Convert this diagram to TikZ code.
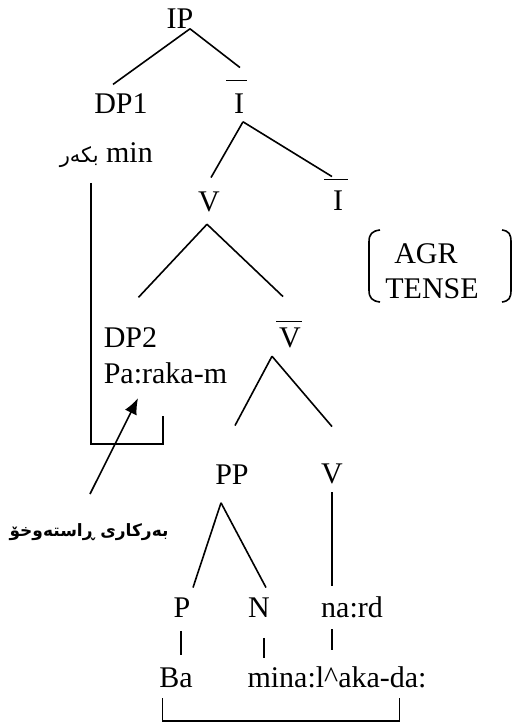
\documentclass[tikz,border=0pt]{standalone}
\usepackage{fontspec}
\setmainfont{Liberation Serif}
\newfontfamily\arabicfont[Script=Arabic]{DejaVu Sans}
\TeXXeTstate=1
\usepackage{tikz}
\usetikzlibrary{arrows.meta,calc}

\begin{document}
\begin{tikzpicture}[x=1pt,y=-1pt,line width=1.6pt,
  lbl/.style={font=\fontsize{30}{34}\selectfont,inner sep=0pt,anchor=base},
  kur/.style={font=\fontsize{17}{20}\arabicfont\bfseries,inner sep=0pt}]
  \useasboundingbox (0,0) rectangle (515,726);
  \node[lbl] (ip) at (180,28) {IP};
  \node[lbl] (dp1) at (121,113) {DP1};
  \node[lbl] (ibar1) at (239,113) {I};
  \node[lbl,anchor=base west] (subj) at (59,162) {{\fontsize{21}{24}\arabicfont\beginR بکەر\endR}\ min};
  \node[lbl] (v1) at (209,211) {V};
  \node[lbl] (ibar2) at (338,210) {I};
  \node[lbl] (agr) at (426,263) {AGR};
  \node[lbl] (tense) at (432,298) {TENSE};
  \node[lbl,anchor=base west] (dp2) at (103,347) {DP2};
  \node[lbl,anchor=base west] (obj) at (103,383) {Pa:raka-m};
  \node[lbl] (vbar) at (290,347) {V};
  \node[lbl] (pp) at (232,484) {PP};
  \node[lbl] (v2) at (332,483) {V};
  \node[kur] (dobj) at (89,532) {\beginR بەرکاری ڕاستەوخۆ\endR};
  \node[lbl] (p) at (182,617) {P};
  \node[lbl] (n) at (259,617) {N};
  \node[lbl] (nard) at (352,617) {na:rd};
  \node[lbl] (ba) at (176,687) {Ba};
  \node[lbl] (mina) at (337,687) {mina:l\textasciicircum aka-da:};

  \draw ([xshift=-13pt,yshift=12pt]ibar1.north) -- ++(21,0);
  \draw ([xshift=-14pt,yshift=10pt]ibar2.north) -- ++(24,0);
  \draw ([xshift=-14pt,yshift=5pt]vbar.north) -- ++(26,0);

  \draw ([xshift=10pt]ip.south) -- ([xshift=-8pt,yshift=8pt]dp1.north);
  \draw ([xshift=10pt]ip.south) -- ([xshift=1pt,yshift=25pt]ibar1.north);
  \draw ([xshift=4pt,yshift=-8pt]ibar1.south) -- ([xshift=2pt,yshift=13pt]v1.north);
  \draw ([xshift=4pt,yshift=-8pt]ibar1.south) -- ([xshift=-6pt,yshift=13pt]ibar2.north);
  \draw ([xshift=-2pt,yshift=-12pt]v1.south) -- ([xshift=8pt,yshift=29pt]dp2.north);
  \draw ([xshift=-2pt,yshift=-12pt]v1.south) -- ([xshift=-7pt,yshift=30pt]vbar.north);
  \draw ([xshift=-18pt,yshift=-8pt]vbar.south) -- ([xshift=3pt,yshift=38pt]pp.north);
  \draw ([xshift=-18pt,yshift=-8pt]vbar.south) -- ([yshift=36pt]v2.north);
  \draw ([yshift=-8pt]v2.south) -- ([xshift=-20pt,yshift=9pt]nard.north);
  \draw ([xshift=-11pt,yshift=-18pt]pp.south) -- ([xshift=11pt,yshift=9pt]p.north);
  \draw ([xshift=-11pt,yshift=-18pt]pp.south) -- ([xshift=7pt,yshift=9pt]n.north);
  \draw ([xshift=-1pt,yshift=-13pt]p.south) -- ([xshift=5pt,yshift=12pt]ba.north);
  \draw ([xshift=5pt,yshift=-20pt]n.south) -- ([xshift=-73pt,yshift=7pt]mina.north);
  \draw ([xshift=-20pt,yshift=-11pt]nard.south) -- ([xshift=-5pt,yshift=15pt]mina.north);

  \draw ([xshift=4pt,yshift=-10pt]ba.south west) -- ++(0,23) -| ([xshift=-28pt,yshift=-10pt]mina.south east);
  \draw ([xshift=32pt,yshift=-15pt]subj.south west) |- ([xshift=60pt,yshift=-60pt]obj.south west) -- ([xshift=60pt,yshift=-32pt]obj.south west);
  \draw[-{Latex[length=16pt,width=13pt]}] ([xshift=1pt,yshift=38pt]dobj.center) -- ([xshift=35pt,yshift=-14pt]obj.south west);

  \draw (380,230) .. controls (372,231) and (369,234) .. (369,242) -- (369,290) .. controls (369,298) and (372,301) .. (380,302);
  \draw (502,230) .. controls (509,231) and (511,234) .. (511,242) -- (511,290) .. controls (511,298) and (509,301) .. (502,302);
\end{tikzpicture}
\end{document}
